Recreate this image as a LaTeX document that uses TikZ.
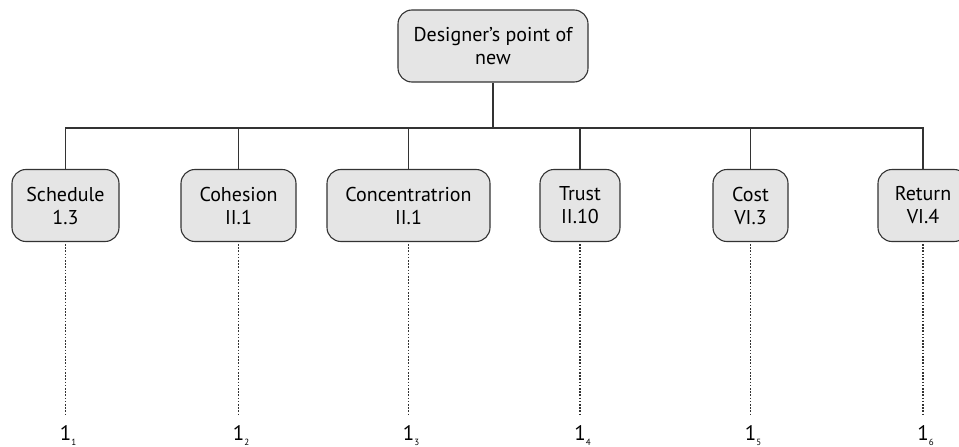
\documentclass[tikz,border=0pt]{standalone}
\usepackage{fontspec}
\setmainfont{PT Sans}
\newcommand{\sublab}[1]{1\raisebox{-5pt}{\fontsize{9}{9}\selectfont #1}}
\tikzset{
  topic/.style={draw=black!80, line width=1.1pt, fill=black!10, rounded corners=14pt,
    align=center, inner sep=0, minimum height=72pt, font=\fontsize{20}{23}\selectfont},
  tag/.style={inner sep=0, font=\fontsize{21}{23}\selectfont},
  link/.style={draw=black!80, line width=1.1pt},
  trace/.style={draw=black!80, line width=1.2pt, dash pattern=on 1.6pt off 1.6pt}
}
\begin{document}
\begin{tikzpicture}[x=1pt, y=-1pt]
			\clip (0,0) rectangle (959,447);
			\node (top) [topic, minimum width=190] at (493,46) {Designer's point of\\new};
			\node (s1) [topic, minimum width=107] at (65.5,205.5) {Schedule\\1.3};
			\node (s2) [topic, minimum width=115] at (238.5,205.5) {Cohesion\\II.1};
			\node (s3) [topic, minimum width=163] at (408.5,205.5) {Concentratrion\\II.1};
			\node (s4) [topic, minimum width=80] at (580,205.5) {Trust\\II.10};
			\node (s5) [topic, minimum width=75] at (750.5,205.5) {Cost\\VI.3};
			\node (s6) [topic, minimum width=90] at (923,205.5) {Return\\VI.4};
			\node (l1) [tag] at (68,436) {\sublab{1}};
			\node (l2) [tag] at (241,436) {\sublab{2}};
			\node (l3) [tag] at (411,436) {\sublab{3}};
			\node (l4) [tag] at (582.5,436) {\sublab{4}};
			\node (l5) [tag] at (753,436) {\sublab{5}};
			\node (l6) [tag] at (925.5,436) {\sublab{6}};
			\coordinate (bus) at (493,128);
			\draw[link] (top) -- (bus);
			\draw[link] (s1.north) |- (bus) -| (s6.north);
			\draw[link] (s2.north) -- (s2.north |- bus);
			\draw[link] (s3.north) -- (s3.north |- bus);
			\draw[link] (s4.north) -- (s4.north |- bus);
			\draw[link] (s5.north) -- (s5.north |- bus);
			\draw[trace, shorten <=2pt, shorten >=12pt] (s1) -- (s1 |- l1.north);
			\draw[trace, shorten <=2pt, shorten >=12pt] (s2) -- (s2 |- l2.north);
			\draw[trace, shorten <=2pt, shorten >=12pt] (s3) -- (s3 |- l3.north);
			\draw[trace, shorten <=2pt, shorten >=12pt] (s4) -- (s4 |- l4.north);
			\draw[trace, shorten <=2pt, shorten >=12pt] (s5) -- (s5 |- l5.north);
			\draw[trace, shorten <=2pt, shorten >=12pt] (s6) -- (s6 |- l6.north);

		\end{tikzpicture}
\end{document}
